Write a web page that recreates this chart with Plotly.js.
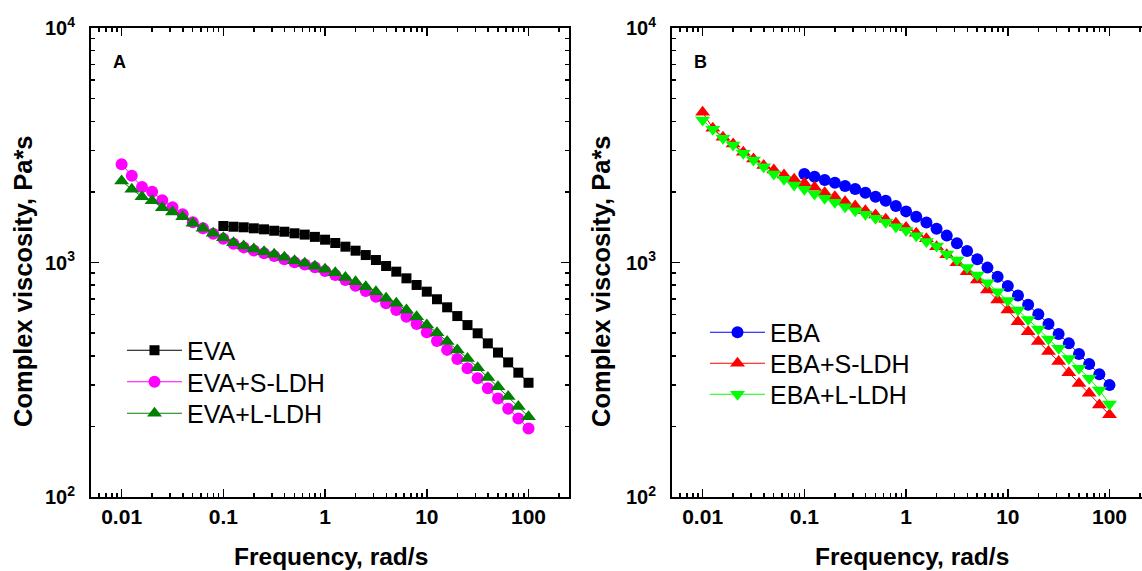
<!DOCTYPE html>
<html>
<head>
<meta charset="utf-8">
<script src="https://cdn.plot.ly/plotly-3.0.1.min.js"></script>
<style>
html, body { margin: 0; padding: 0; overflow: hidden; background: #fff; }
#chart { width: 1152px; height: 571px; }
</style>
</head>
<body>
<div id="chart"></div>
<script>
// Frequencies (rad/s), 10 points per decade
const freq = [0.01, 0.01259, 0.01585, 0.01995, 0.02512, 0.03162, 0.03981, 0.05012, 0.0631, 0.07943,
  0.1, 0.1259, 0.1585, 0.1995, 0.2512, 0.3162, 0.3981, 0.5012, 0.631, 0.7943,
  1, 1.259, 1.585, 1.995, 2.512, 3.162, 3.981, 5.012, 6.31, 7.943,
  10, 12.59, 15.85, 19.95, 25.12, 31.62, 39.81, 50.12, 63.1, 79.43, 100];
const freqHigh = freq.slice(10); // 0.1 .. 100

// Panel A: complex viscosity (Pa*s)
const eva = [1431, 1421, 1413, 1399, 1385, 1366, 1353, 1332, 1315, 1286,
  1251, 1211, 1168, 1123, 1076, 1025, 966, 914, 856, 802,
  751, 697, 644, 591, 541, 499, 452, 413, 375, 339, 307];
const evaS = [2623, 2346, 2099, 2004, 1841, 1719, 1605, 1484, 1400, 1325,
  1262, 1203, 1160, 1125, 1095, 1065, 1033, 1002, 980, 955,
  920, 885, 842, 796, 756, 715, 670, 627, 587, 547,
  504, 463, 424, 388, 354, 321, 291, 263, 238, 216, 196];
const evaL = [2226, 2051, 1909, 1835, 1713, 1642, 1568, 1469, 1399, 1332,
  1276, 1215, 1176, 1141, 1112, 1084, 1052, 1018, 992, 965,
  937, 905, 862, 828, 789, 751, 704, 670, 627, 587,
  541, 502, 460, 424, 390, 356, 323, 295, 268, 243, 220];

// Panel B: complex viscosity (Pa*s)
const eba = [2384, 2323, 2248, 2190, 2120, 2058, 1985, 1909, 1835, 1742,
  1652, 1568, 1482, 1394, 1302, 1207, 1119, 1032, 951, 870,
  794, 724, 661, 601, 547, 496, 452, 407, 369, 334, 300];
const ebaS = [4369, 3740, 3420, 3200, 2950, 2760, 2590, 2481, 2361, 2263,
  2176, 2092, 1985, 1909, 1817, 1742, 1663, 1594, 1528, 1469,
  1410, 1332, 1262, 1168, 1080, 998, 914, 842, 763, 692,
  627, 559, 507, 460, 417, 378, 339, 305, 277, 247, 224];
const ebaL = [4053, 3698, 3386, 3171, 2921, 2736, 2563, 2384, 2263, 2141,
  2052, 1959, 1878, 1806, 1730, 1663, 1605, 1543, 1484, 1421,
  1370, 1300, 1230, 1176, 1087, 1025, 951, 885, 820, 751,
  688, 627, 572, 521, 472, 431, 390, 354, 321, 286, 249];

const xTickVals = [0.01, 0.1, 1, 10, 100];
const xTickText = ['0.01', '0.1', '1', '10', '100'];
const yTickVals = [100, 1000, 10000];
const yTickText = ['10<sup>2</sup>', '10<sup>3</sup>', '10<sup>4</sup>'];

const W = 1152, H = 571;
const FONT = 'Liberation Sans, Arial, Helvetica, sans-serif';

function minorVals(lo, hi) {
  const out = [];
  for (let e = lo; e <= hi; e++) {
    for (let m = 2; m <= 9; m++) out.push(m * Math.pow(10, e));
  }
  return out;
}

function tr(x, y, name, color, symbol, size, xa, ya, leg) {
  return {
    x: x, y: y, name: name, type: 'scatter', mode: 'lines+markers',
    line: {color: color, width: 1},
    marker: {color: color, symbol: symbol, size: size, line: {width: 0}},
    xaxis: xa, yaxis: ya, legend: leg
  };
}

const data = [
  tr(freqHigh, eva, 'EVA', '#000000', 'square', 10, 'x', 'y', 'legend'),
  tr(freq, evaS, 'EVA+S-LDH', '#FF00FF', 'circle', 12, 'x', 'y', 'legend2'),
  tr(freq, evaL, 'EVA+L-LDH', '#008000', 'triangle-up', 13, 'x', 'y', 'legend3'),
  tr(freqHigh, eba, 'EBA', '#0000FF', 'circle', 12, 'x2', 'y2', 'legend4'),
  tr(freq, ebaS, 'EBA+S-LDH', '#FF0000', 'triangle-up', 13, 'x2', 'y2', 'legend5'),
  tr(freq, ebaL, 'EBA+L-LDH', '#00FF00', 'triangle-down', 13, 'x2', 'y2', 'legend6')
];

function xAxis(domain, anchor) {
  return {
    type: 'log', domain: domain, anchor: anchor,
    range: [Math.log10(0.005), Math.log10(250)],
    tickmode: 'array', tickvals: xTickVals, ticktext: xTickText,
    ticks: 'inside', ticklen: 8, tickwidth: 1.5, tickcolor: '#000',
    minor: {tickmode: 'array', tickvals: minorVals(-3, 2), ticks: 'inside', ticklen: 4, tickwidth: 1.5, tickcolor: '#000', showgrid: false},
    showline: true, linewidth: 2, linecolor: '#000', mirror: 'allticks',
    showgrid: false, zeroline: false,
    tickfont: {family: FONT, size: 21, color: '#000', weight: 'bold'}
  };
}
function yAxis(domain, anchor) {
  return {
    type: 'log', domain: domain, anchor: anchor,
    range: [2, 4],
    tickmode: 'array', tickvals: yTickVals, ticktext: yTickText,
    ticks: 'inside', ticklen: 8, tickwidth: 1.5, tickcolor: '#000',
    ticklabelstandoff: 10,
    minor: {tickmode: 'array', tickvals: minorVals(2, 3), ticks: 'inside', ticklen: 4, tickwidth: 1.5, tickcolor: '#000', showgrid: false},
    showline: true, linewidth: 2, linecolor: '#000', mirror: 'allticks',
    showgrid: false, zeroline: false,
    tickfont: {family: FONT, size: 20, color: '#000', weight: 'bold'}
  };
}

const yDom = [(H - 497) / H, (H - 28) / H];

function ann(text, px, py, opts) {
  return Object.assign({
    text: text, xref: 'paper', yref: 'paper', x: px / W, y: 1 - py / H,
    xanchor: 'center', yanchor: 'middle', showarrow: false,
    font: {family: FONT, size: 24, color: '#000', weight: 'bold'}
  }, opts || {});
}

// one legend box per entry so each row sits where the reference has it
function leg(px, rowCenter) {
  return {
    x: px / W, y: 1 - (rowCenter - 22.5) / H, xanchor: 'left', yanchor: 'top',
    bgcolor: 'rgba(0,0,0,0)', borderwidth: 0, itemwidth: 55,
    font: {family: FONT, size: 25, color: '#000'}
  };
}

const layout = {
  width: W, height: H,
  margin: {l: 0, r: 0, t: 0, b: 0},
  paper_bgcolor: '#fff', plot_bgcolor: '#fff',
  showlegend: true,
  xaxis: xAxis([91 / W, 569 / W], 'y'),
  yaxis: yAxis(yDom, 'x'),
  xaxis2: xAxis([672 / W, 1150 / W], 'y2'),
  yaxis2: yAxis(yDom, 'x2'),
  legend: leg(122, 350),
  legend2: leg(122, 381.5),
  legend3: leg(122, 413),
  legend4: leg(705, 332),
  legend5: leg(705, 363),
  legend6: leg(705, 394),
  annotations: [
    ann('Frequency, rad/s', 331, 556, {font: {family: FONT, size: 24.5, color: '#000', weight: 'bold'}}),
    ann('Frequency, rad/s', 912, 556, {font: {family: FONT, size: 24.5, color: '#000', weight: 'bold'}}),
    ann('Complex viscosity, Pa*s', 23, 281, {textangle: -90, font: {family: FONT, size: 25.5, color: '#000', weight: 'bold'}}),
    ann('Complex viscosity, Pa*s', 601, 281, {textangle: -90, font: {family: FONT, size: 25.5, color: '#000', weight: 'bold'}}),
    ann('A', 119, 62, {font: {family: FONT, size: 18, color: '#000', weight: 'bold'}}),
    ann('B', 700, 62, {font: {family: FONT, size: 18, color: '#000', weight: 'bold'}})
  ]
};

Plotly.newPlot('chart', data, layout, {staticPlot: true, displayModeBar: false});
</script>
</body>
</html>
